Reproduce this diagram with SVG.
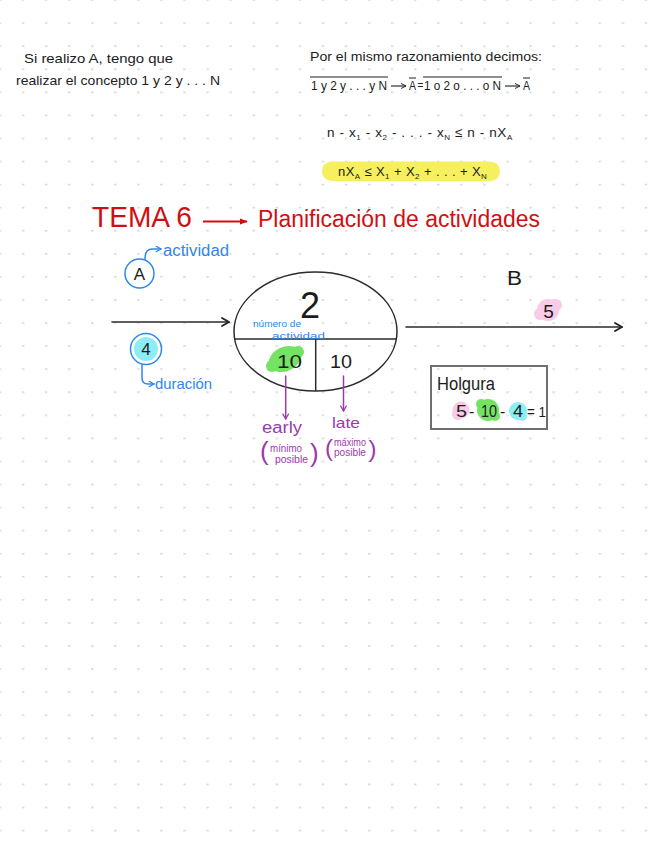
<svg xmlns="http://www.w3.org/2000/svg" width="656" height="848" viewBox="0 0 656 848">
<defs>
<pattern id="dots" patternUnits="userSpaceOnUse" x="-1.2" y="-0.8" width="23.07" height="23.07">
<rect x="0" y="0" width="2.4" height="1.6" fill="#d6d6d6"/>
</pattern>
<marker id="chevK" viewBox="0 0 10 10" refX="9" refY="5" markerWidth="10" markerHeight="10" markerUnits="userSpaceOnUse" orient="auto">
<path d="M2,1 L9,5 L2,9" fill="none" stroke="#222" stroke-width="1.8" stroke-linecap="round" stroke-linejoin="round"/>
</marker>
<marker id="chevB" viewBox="0 0 10 10" refX="9" refY="5" markerWidth="7" markerHeight="7" markerUnits="userSpaceOnUse" orient="auto">
<path d="M2,1 L9,5 L2,9" fill="none" stroke="#2f86ee" stroke-width="1.8" stroke-linecap="round" stroke-linejoin="round"/>
</marker>
<marker id="chevP" viewBox="0 0 10 10" refX="9" refY="5" markerWidth="7" markerHeight="7" markerUnits="userSpaceOnUse" orient="auto">
<path d="M2,1 L9,5 L2,9" fill="none" stroke="#9b3aab" stroke-width="1.8" stroke-linecap="round" stroke-linejoin="round"/>
</marker>
<marker id="triR" viewBox="0 0 10 10" refX="9" refY="5" markerWidth="8" markerHeight="8" markerUnits="userSpaceOnUse" orient="auto">
<path d="M0,1 L10,5 L0,9 Z" fill="#d10f12"/>
</marker>
<marker id="chevS" viewBox="0 0 10 10" refX="9" refY="5" markerWidth="6" markerHeight="6" markerUnits="userSpaceOnUse" orient="auto">
<path d="M1,1 L9,5 L1,9" fill="none" stroke="#222" stroke-width="1.6" stroke-linecap="round"/>
</marker>
</defs>
<style>
text { font-family: "Liberation Sans", "DejaVu Sans", sans-serif; }
.k { fill: #1c1c1c; }
.b { fill: #2f86ee; }
.r { fill: #d10f12; }
.p { fill: #9b3aab; }
.ln { stroke: #2b2b2b; stroke-width: 1.6; fill: none; stroke-linecap: round; }
.bl { stroke: #2f86ee; stroke-width: 1.5; fill: none; stroke-linecap: round; }
.pl { stroke: #9b3aab; stroke-width: 1.5; fill: none; stroke-linecap: round; }
.green { fill: #74e363; }
.cyan { fill: #8cecf7; }
.pink { fill: #f8cbe8; }
</style>
<rect width="656" height="848" fill="#ffffff"/>
<rect width="656" height="848" fill="url(#dots)"/>

<g id="note-left">
<text class="k" x="24" y="63" font-size="13" textLength="149" lengthAdjust="spacingAndGlyphs">Si realizo A, tengo que</text>
<text class="k" x="16" y="85" font-size="13" textLength="204" lengthAdjust="spacingAndGlyphs">realizar el concepto 1 y 2 y . . . N</text>
</g>

<g id="note-right">
<text class="k" x="310" y="61" font-size="12" textLength="232" lengthAdjust="spacingAndGlyphs">Por el mismo razonamiento decimos:</text>
<text class="k" x="311" y="90" font-size="12" textLength="76" lengthAdjust="spacingAndGlyphs">1 y 2 y . . . y N</text>
<line x1="310" y1="77" x2="388" y2="77" stroke="#1c1c1c" stroke-width="1"/>
<line x1="391" y1="86" x2="406" y2="86" stroke="#1c1c1c" stroke-width="1.1" marker-end="url(#chevS)"/>
<text class="k" x="409" y="90" font-size="12" textLength="7" lengthAdjust="spacingAndGlyphs">A</text>
<line x1="409" y1="78" x2="416" y2="78" stroke="#1c1c1c" stroke-width="1"/>
<text class="k" x="417.5" y="89" font-size="10">=</text>
<text class="k" x="424" y="90" font-size="12" textLength="77" lengthAdjust="spacingAndGlyphs">1 o 2 o . . . o N</text>
<line x1="423" y1="77" x2="502" y2="77" stroke="#1c1c1c" stroke-width="1"/>
<line x1="505" y1="86" x2="520" y2="86" stroke="#1c1c1c" stroke-width="1.1" marker-end="url(#chevS)"/>
<text class="k" x="523" y="90" font-size="12" textLength="7" lengthAdjust="spacingAndGlyphs">A</text>
<line x1="523" y1="78" x2="530" y2="78" stroke="#1c1c1c" stroke-width="1"/>
</g>

<g id="inequality">
<text class="k" x="327" y="137" font-size="13.5" letter-spacing="0.6">n - x<tspan dy="3" font-size="8">1</tspan><tspan dy="-3"> - x</tspan><tspan dy="3" font-size="8">2</tspan><tspan dy="-3"> - . . . - x</tspan><tspan dy="3" font-size="8">N</tspan><tspan dy="-3">  ≤  n - nX</tspan><tspan dy="3" font-size="8">A</tspan></text>
</g>

<g id="highlight">
<rect x="322" y="161.5" width="178" height="19.5" rx="9.5" fill="#f6f05e"/>
<text class="k" x="338" y="176" font-size="13" letter-spacing="0.4">nX<tspan dy="3" font-size="8">A</tspan><tspan dy="-3"> ≤ X</tspan><tspan dy="3" font-size="8">1</tspan><tspan dy="-3"> + X</tspan><tspan dy="3" font-size="8">2</tspan><tspan dy="-3"> + . . . + X</tspan><tspan dy="3" font-size="8">N</tspan></text>
</g>

<g id="title">
<text class="r" x="92" y="227" font-size="30" textLength="100" lengthAdjust="spacingAndGlyphs">TEMA 6</text>
<line x1="203" y1="221.5" x2="247" y2="221.5" stroke="#d10f12" stroke-width="1.8" marker-end="url(#triR)"/>
<text class="r" x="258" y="227" font-size="23" textLength="282" lengthAdjust="spacingAndGlyphs">Planificación de actividades</text>
</g>

<g id="node-A">
<circle cx="139.5" cy="273.5" r="14.5" fill="none" stroke="#2f86ee" stroke-width="1.5"/>
<text class="k" x="139.5" y="280" font-size="17" text-anchor="middle">A</text>
<text class="b" x="163" y="256" font-size="16" textLength="66" lengthAdjust="spacingAndGlyphs">actividad</text>
</g>

<g id="node-duration">
<circle cx="146" cy="349" r="12" class="cyan"/>
<circle cx="146" cy="349" r="15.5" fill="none" stroke="#2f86ee" stroke-width="1.5"/>
<text class="k" x="146" y="355" font-size="17" text-anchor="middle">4</text>
<text class="b" x="155" y="389" font-size="15" textLength="57" lengthAdjust="spacingAndGlyphs">duración</text>
</g>

<g id="node-2">
<ellipse cx="315.5" cy="331.5" rx="81.5" ry="59.5" fill="none" stroke="#2b2b2b" stroke-width="1.5"/>
<line x1="234.5" y1="339" x2="396.5" y2="339" stroke="#2b2b2b" stroke-width="1.5"/>
<line x1="315.7" y1="339" x2="315.7" y2="391" stroke="#2b2b2b" stroke-width="1.5"/>
<text class="k" x="310" y="318" font-size="36" text-anchor="middle">2</text>
<text class="b" x="253" y="327" font-size="9.5" textLength="48" lengthAdjust="spacingAndGlyphs">número de</text>
<text class="b" x="272" y="339" font-size="9.5" textLength="53" lengthAdjust="spacingAndGlyphs">actividad</text>
<g class="green">
<ellipse cx="285" cy="359" rx="17" ry="12" transform="rotate(-25 285 359)"/>
<circle cx="298" cy="352" r="6"/>
<circle cx="272" cy="366" r="6"/>
</g>
<text class="k" x="277" y="368" font-size="19" textLength="25" lengthAdjust="spacingAndGlyphs">10</text>
<text class="k" x="330" y="368" font-size="19" textLength="22" lengthAdjust="spacingAndGlyphs">10</text>
</g>

<g id="node-B">
<text class="k" x="507" y="285" font-size="20" textLength="15" lengthAdjust="spacingAndGlyphs">B</text>
<g class="pink">
<circle cx="548" cy="310" r="11"/>
<circle cx="540" cy="314" r="6"/>
<circle cx="556" cy="305" r="6"/>
</g>
<text class="k" x="548.5" y="318" font-size="19" text-anchor="middle">5</text>
</g>

<g id="holgura">
<rect x="431" y="366" width="116" height="63" fill="none" stroke="#6e6e6e" stroke-width="2"/>
<text class="k" x="437" y="390" font-size="19" textLength="58" lengthAdjust="spacingAndGlyphs">Holgura</text>
<g class="pink"><circle cx="461" cy="410" r="8.5"/><circle cx="458" cy="414" r="6"/></g>
<g class="green"><circle cx="488" cy="410" r="11"/><circle cx="481" cy="404" r="5"/><circle cx="495" cy="416" r="5"/></g>
<g class="cyan"><circle cx="518" cy="411" r="9"/><circle cx="522" cy="416" r="5"/></g>
<text class="k" x="456" y="417" font-size="16" textLength="11" lengthAdjust="spacingAndGlyphs">5</text>
<text class="k" x="469" y="417" font-size="16">-</text>
<text class="k" x="481" y="417" font-size="16" textLength="16" lengthAdjust="spacingAndGlyphs">10</text>
<text class="k" x="500" y="417" font-size="16">-</text>
<text class="k" x="513" y="417" font-size="16" textLength="10" lengthAdjust="spacingAndGlyphs">4</text>
<text class="k" x="527" y="417" font-size="14" textLength="19" lengthAdjust="spacingAndGlyphs">= 1</text>
</g>

<g id="label-early">
<text class="p" x="262" y="433" font-size="16" textLength="40" lengthAdjust="spacingAndGlyphs">early</text>
<text class="p" x="260" y="460" font-size="26" font-weight="300">(</text>
<text class="p" x="270" y="452" font-size="10" textLength="32" lengthAdjust="spacingAndGlyphs">mínimo</text>
<text class="p" x="275" y="463" font-size="10" textLength="33" lengthAdjust="spacingAndGlyphs">posible</text>
<text class="p" x="310" y="462" font-size="26">)</text>
</g>

<g id="label-late">
<text class="p" x="332" y="428" font-size="15" textLength="28" lengthAdjust="spacingAndGlyphs">late</text>
<text class="p" x="325" y="456" font-size="24">(</text>
<text class="p" x="334" y="446" font-size="10" textLength="32" lengthAdjust="spacingAndGlyphs">máximo</text>
<text class="p" x="334" y="456" font-size="10" textLength="32" lengthAdjust="spacingAndGlyphs">posible</text>
<text class="p" x="368.5" y="457" font-size="24">)</text>
</g>

<g id="connectors">
<line class="ln" x1="112" y1="322" x2="229" y2="322" marker-end="url(#chevK)"/>
<line class="ln" x1="406" y1="327" x2="622" y2="327" marker-end="url(#chevK)"/>
<path class="bl" d="M145,259 Q145,249 152,249 L161,249" marker-end="url(#chevB)"/>
<path class="bl" d="M142,365 L142,378 Q142,384 148,384 L154,384" marker-end="url(#chevB)"/>
<line class="pl" x1="285.7" y1="376" x2="285.7" y2="419" marker-end="url(#chevP)"/>
<line class="pl" x1="343.5" y1="376" x2="343.5" y2="411" marker-end="url(#chevP)"/>
</g>
</svg>
